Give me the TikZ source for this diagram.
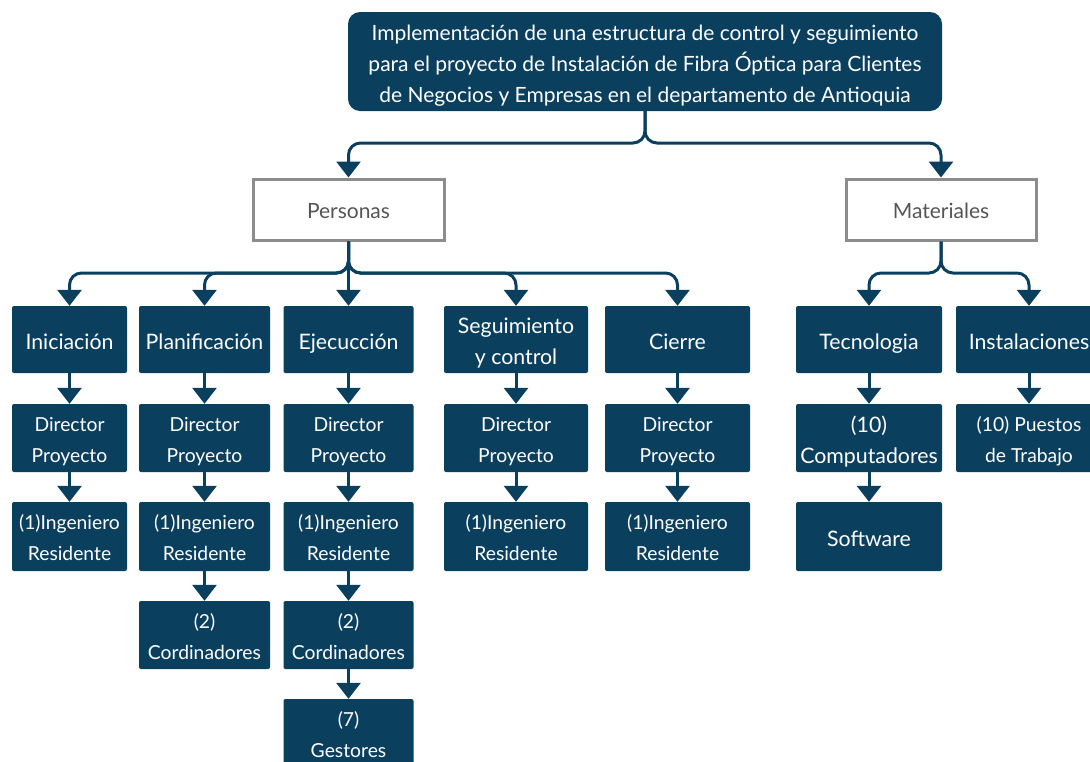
\documentclass[tikz,border=0pt]{standalone}
\usepackage{fontspec}
\setmainfont{Lato}
\usetikzlibrary{arrows.meta}
\definecolor{navy}{HTML}{0B3F5E}
\definecolor{framegray}{HTML}{8C8C8C}
\definecolor{labelgray}{HTML}{555555}
% Centred label lines; the box reaches from the last baseline up to the
% cap height of the first line, so the visible text block is centred,
% then lowered by the optional amount.
\newcommand\boxtext[2][2pt]{\raisebox{-#1}[\dimexpr\height-0.7\baselineskip+\fontcharht\font`\H\relax][0pt]{\begin{tabular}[b]{@{}c@{}}#2\end{tabular}}}

\begin{document}
\begin{tikzpicture}[x=1pt,y=-1pt,
  box/.style 2 args={fill=navy, rounded corners=2pt, text=white,
    inner sep=0pt, minimum width=#1, minimum height=#2},
  bigtxt/.style={font=\fontsize{21.3}{31}\selectfont},
  smalltxt/.style={font=\fontsize{19.3}{31}\selectfont},
  group/.style={draw=framegray, line width=3pt, fill=white, text=labelgray,
    inner sep=0pt, minimum width=#1, minimum height=61pt,
    font=\fontsize{21}{31}\selectfont},
  conn/.style={draw=navy, line width=3pt, rounded corners=12pt,
    -{Triangle[width=24pt,length=16pt]}},
]
\useasboundingbox (0,0) rectangle (1090,761);
\clip (0,0) rectangle (1090,761);

% root
\node[box={594pt}{99pt}, rounded corners=12pt, font=\fontsize{21}{31}\selectfont]
  (root) at (645,61.5)
  {\boxtext{Implementación de una estructura de control y seguimiento\\
   para el proyecto de Instalación de Fibra Óptica para Clientes\\
   de Negocios y Empresas en el departamento de Antioquia}};

% two groups
\node[group=191pt] (per) at (348.5,209.5) {\boxtext[1pt]{Personas}};
\node[group=190pt] (mat) at (941,209.5) {\boxtext[1pt]{Materiales}};

% phases and resource types
\node[box={115pt}{67pt}, bigtxt] (ini) at (69.5,339.5) {\boxtext{Iniciación}};
\node[box={131pt}{67pt}, bigtxt] (pla) at (204.5,339.5) {\boxtext{Planificación}};
\node[box={130pt}{67pt}, bigtxt] (eje) at (348.5,339.5) {\boxtext{Ejecucción}};
\node[box={144pt}{67pt}, bigtxt] (seg) at (516,339.5) {\boxtext{Seguimiento\\y control}};
\node[box={145pt}{67pt}, bigtxt] (cie) at (677.5,339.5) {\boxtext{Cierre}};
\node[box={146pt}{67pt}, bigtxt] (tec) at (869,339.5) {\boxtext{Tecnologia}};
\node[box={146pt}{67pt}, bigtxt] (ins) at (1029,339.5) {\boxtext{Instalaciones}};

% second level
\node[box={115pt}{68pt}, smalltxt] (ini2) at (69.5,438) {\boxtext{Director\\Proyecto}};
\node[box={131pt}{68pt}, smalltxt] (pla2) at (204.5,438) {\boxtext{Director\\Proyecto}};
\node[box={130pt}{68pt}, smalltxt] (eje2) at (348.5,438) {\boxtext{Director\\Proyecto}};
\node[box={144pt}{68pt}, smalltxt] (seg2) at (516,438) {\boxtext{Director\\Proyecto}};
\node[box={145pt}{68pt}, smalltxt] (cie2) at (677.5,438) {\boxtext{Director\\Proyecto}};
\node[box={146pt}{68pt}, bigtxt] (tec2) at (869,438) {\boxtext{(10)\\Computadores}};
\node[box={146pt}{68pt}, smalltxt] (ins2) at (1029,438) {\boxtext{(10) Puestos\\de Trabajo}};

% third level
\node[box={115pt}{69pt}, smalltxt] (ini3) at (69.5,536.5) {\boxtext{(1)Ingeniero\\Residente}};
\node[box={131pt}{69pt}, smalltxt] (pla3) at (204.5,536.5) {\boxtext{(1)Ingeniero\\Residente}};
\node[box={130pt}{69pt}, smalltxt] (eje3) at (348.5,536.5) {\boxtext{(1)Ingeniero\\Residente}};
\node[box={144pt}{69pt}, smalltxt] (seg3) at (516,536.5) {\boxtext{(1)Ingeniero\\Residente}};
\node[box={145pt}{69pt}, smalltxt] (cie3) at (677.5,536.5) {\boxtext{(1)Ingeniero\\Residente}};
\node[box={146pt}{69pt}, bigtxt] (tec3) at (869,536.5) {\boxtext{Software}};

% fourth and fifth level
\node[box={131pt}{68pt}, smalltxt] (pla4) at (204.5,635) {\boxtext{(2)\\Cordinadores}};
\node[box={130pt}{68pt}, smalltxt] (eje4) at (348.5,635) {\boxtext{(2)\\Cordinadores}};
\node[box={130pt}{68pt}, smalltxt] (eje5) at (348.5,733) {\boxtext{(7)\\Gestores}};

% junction points of the branching connectors
\coordinate (jr) at (645,143);
\coordinate (jp) at (348.5,273);
\coordinate (jm) at (941,273);

% root to groups
\draw[conn] (root.south) -- (jr) -| (per.north);
\draw[conn] (root.south) -- (jr) -| (mat.north);

% Personas to phases
\draw[conn] (per.south) -- (jp) -| (ini.north);
\draw[conn] (per.south) -- (jp) -| (pla.north);
\draw[conn] (per.south) -- (eje.north);
\draw[conn] (per.south) -- (jp) -| (seg.north);
\draw[conn] (per.south) -- (jp) -| (cie.north);

% Materiales to types
\draw[conn] (mat.south) -- (jm) -| (tec.north);
\draw[conn] (mat.south) -- (jm) -| (ins.north);

% vertical chains
\foreach \a/\b in {ini/ini2, ini2/ini3, pla/pla2, pla2/pla3, pla3/pla4,
                   eje/eje2, eje2/eje3, eje3/eje4, eje4/eje5,
                   seg/seg2, seg2/seg3, cie/cie2, cie2/cie3,
                   tec/tec2, tec2/tec3, ins/ins2}
  \draw[conn] (\a.south) -- (\b.north);
\end{tikzpicture}
\end{document}
